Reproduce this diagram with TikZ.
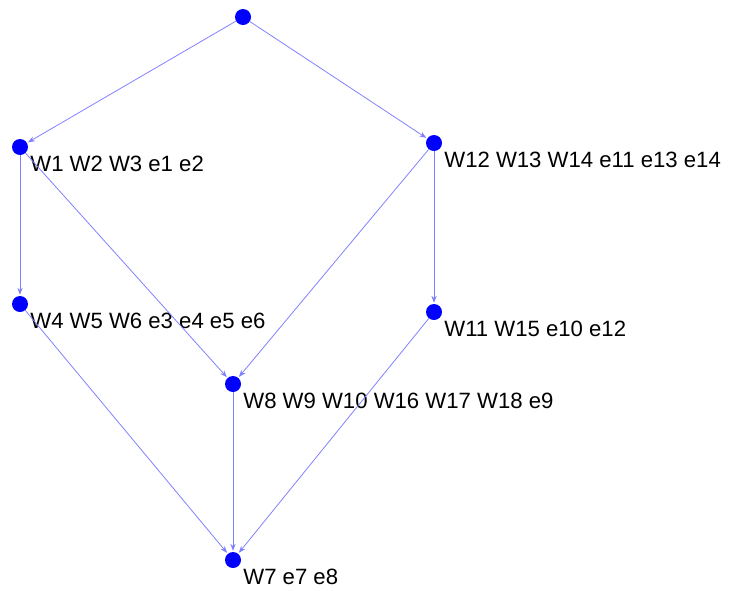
\documentclass[tikz,border=0pt]{standalone}
\usepackage{fontspec}
\setmainfont{Liberation Sans}
\usetikzlibrary{arrows.meta}
\tikzset{
  dot/.style={circle,fill=blue,draw=none,minimum size=0.32cm,inner sep=0pt},
  lbl/.style={anchor=base west,inner sep=0pt,xshift=0.2cm,yshift=-0.48cm,
    font=\fontsize{12.6}{15}\selectfont},
  edge/.style={draw=blue!50,line width=0.45pt,-{Stealth[length=4pt,width=3pt]},shorten >=0.5pt}
}
\begin{document}
\begin{tikzpicture}
        \path[use as bounding box] (0, 0) rectangle (14.62, -11.8);
        \node[dot] at (4.86,-0.34) (top) {};
        \node[dot] at (0.4,-2.94) (w1) {};
        \node[dot] at (8.68,-2.86) (w12) {};
        \node[dot] at (0.4,-6.08) (w4) {};
        \node[dot] at (8.68,-6.24) (w11) {};
        \node[dot] at (4.66,-7.68) (w8) {};
        \node[dot] at (4.66,-11.2) (w7) {};
        \node[lbl] at (w1.center) (t1) {W1 W2 W3 e1 e2};
        \node[lbl] at (w12.center) (t12) {W12 W13 W14 e11 e13 e14};
        \node[lbl] at (w4.center) (t4) {W4 W5 W6 e3 e4 e5 e6};
        \node[lbl] at (w11.center) (t11) {W11 W15 e10 e12};
        \node[lbl] at (w8.center) (t8) {W8 W9 W10 W16 W17 W18 e9};
        \node[lbl] at (w7.center) (t7) {W7 e7 e8};
        \path[edge] (top) -- (w1);
        \path[edge] (top) -- (w12);
        \path[edge] (w1) -- (w4);
        \path[edge] (w1) -- (w8);
        \path[edge] (w12) -- (w8);
        \path[edge] (w12) -- (w11);
        \path[edge] (w4) -- (w7);
        \path[edge] (w8) -- (w7);
        \path[edge] (w11) -- (w7);
      \end{tikzpicture}
\end{document}
